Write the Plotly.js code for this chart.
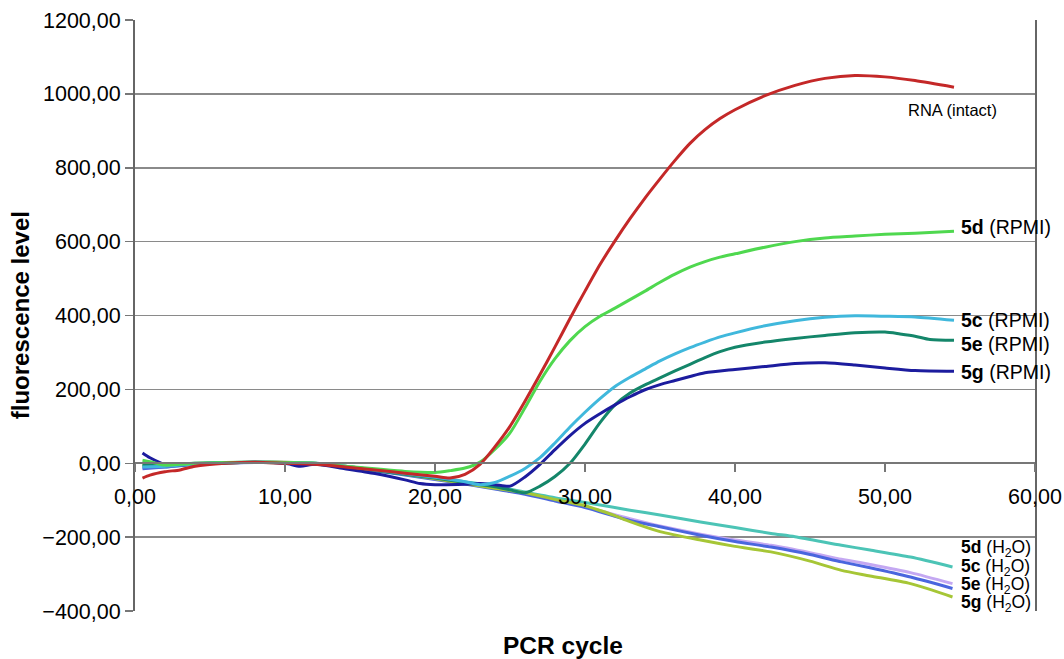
<!DOCTYPE html>
<html>
<head>
<meta charset="utf-8">
<script src="https://cdn.plot.ly/plotly-3.0.1.min.js"></script>
<style>html,body{margin:0;padding:0;background:#fff;}#chart{width:1064px;height:659px;}</style>
</head>
<body>
<div id="chart"></div>
<script>
// ---- data ----
const rnaX = [0.5,1,2,3,4,6,8,10,12,14,16,18,20,21,22,23,24,25,26,27,28,29,30,31,32,33,34,35,36,37,38,39,40,42,44,46,48,50,52,54.6];
const rnaY = [-40,-32,-23,-18,-8,0,3,0,-3,-10,-18,-27,-35,-40,-30,-3,45,100,168,240,315,392,466,538,602,662,718,770,820,866,903,933,957,995,1023,1042,1050,1046,1036,1018];

const d_rpmiX = [0.5,1,2,3,4,6,8,10,12,14,16,18,20,21,22,23,24,25,26,27,28,29,30,31,32,33,34,35,36,37,38,39,40,42,44,46,48,50,52,54.6];
const d_rpmiY = [8,4,-5,-3,0,2,3,2,0,-8,-15,-22,-25,-20,-13,3,38,82,150,222,283,332,370,398,420,443,466,490,512,531,546,558,567,585,600,610,615,620,623,628];

const c_rpmiX = [0.5,2,4,6,8,10,12,14,16,18,20,22,23,24,25,26,27,28,29,30,31,32,33,34,35,36,37,38,39,40,42,44,46,48,50,52,54.6];
const c_rpmiY = [-10,-8,-2,2,3,2,0,-8,-18,-28,-38,-50,-58,-52,-35,-14,15,55,98,138,175,208,233,255,277,296,313,328,342,353,372,386,395,399,398,396,387];

const e_rpmiX = [0.5,2,4,6,8,10,12,14,16,18,20,22,24,25,26,27,28,29,30,31,32,33,34,35,36,37,38,39,40,42,44,46,48,50,51,52,53,54.6];
const e_rpmiY = [-5,-5,0,2,3,1,-2,-10,-20,-30,-40,-52,-64,-72,-80,-62,-36,0,52,110,158,190,212,231,250,268,286,302,314,328,338,346,353,355,350,344,335,333];

const g_rpmiX = [0.5,1,2,3,4,6,8,10,11,12,14,16,18,19,20,22,23,24,25,26,27,28,29,30,31,32,33,34,35,36,37,38,40,42,44,46,48,50,52,54.6];
const g_rpmiY = [28,15,-3,-5,-2,1,3,0,-8,-3,-15,-28,-45,-55,-58,-57,-55,-58,-62,-37,-3,37,75,108,134,158,180,199,213,224,235,245,254,262,270,272,266,258,251,249];

const d_h2oX = [0.5,2,4,6,8,10,12,14,16,18,20,22,24,26,28.35,30,33,35,37.7,40,42.4,44,47.1,49,51.7,54.5];
const d_h2oY = [-8,-10,-3,1,3,2,0,-8,-18,-28,-38,-50,-62,-78,-96,-106,-127,-140,-159,-174,-190,-199,-222,-235,-254,-281];

const c_h2oX = [0.5,2,4,6,8,10,12,14,16,18,20,22,24,26,28,30,33,35,37.7,40,42.4,45,47.1,49,51.7,54.5];
const c_h2oY = [-12,-8,-2,2,3,3,0,-8,-18,-30,-42,-55,-68,-82,-100,-118,-150,-170,-192,-208,-222,-242,-260,-274,-296,-326];

const e_h2oX = [0.5,2,4,6,8,10,12,14,16,18,20,22,24,26,28,30,33,35,37.7,40,42.4,45,47.1,49,51.7,54.5];
const e_h2oY = [-15,-10,-3,1,2,2,-2,-10,-20,-32,-44,-56,-70,-84,-102,-120,-155,-172,-195,-212,-227,-247,-267,-283,-308,-339];

const g_h2oX = [0.5,2,4,6,8,10,12,14,16,18,20,22,24,26,28,30,31,32,33,35,37.7,40,42.4,45,47.1,49,51.7,54.5];
const g_h2oY = [-5,-6,-2,1,3,3,0,-8,-18,-30,-42,-55,-68,-80,-98,-115,-128,-142,-158,-185,-208,-225,-240,-265,-290,-305,-326,-362];

const xTicks = [0,10,20,30,40,50,60];
const yTicks = [-400,-200,0,200,400,600,800,1000,1200];

// ---- plot ----
function tr(x, y, color, name) {
  return {x: x, y: y, type: 'scatter', mode: 'lines', name: name,
          line: {color: color, width: 3, shape: 'spline', smoothing: 0.7},
          hoverinfo: 'x+y+name'};
}
const traces = [
  tr(d_h2oX, d_h2oY, '#4cc4b6', '5d (H2O)'),
  tr(c_h2oX, c_h2oY, '#c4a8f2', '5c (H2O)'),
  tr(e_h2oX, e_h2oY, '#4a66de', '5e (H2O)'),
  tr(g_h2oX, g_h2oY, '#a6c636', '5g (H2O)'),
  tr(e_rpmiX, e_rpmiY, '#14866a', '5e (RPMI)'),
  tr(g_rpmiX, g_rpmiY, '#1c1c9e', '5g (RPMI)'),
  tr(c_rpmiX, c_rpmiY, '#40b8dc', '5c (RPMI)'),
  tr(d_rpmiX, d_rpmiY, '#4fd84f', '5d (RPMI)'),
  tr(rnaX, rnaY, '#c42828', 'RNA (intact)')
];

const F = 'Liberation Sans, Arial, sans-serif';
function lab(text, y, size) {
  return {x: 54.9, y: y, xref: 'x', yref: 'y', text: text, showarrow: false,
          xanchor: 'left', yanchor: 'middle', font: {family: F, size: size, color: '#000'}};
}
const annotations = [
  {x: 54.5, y: 956, xref: 'x', yref: 'y', text: 'RNA (intact)', showarrow: false,
   xanchor: 'center', yanchor: 'middle', font: {family: F, size: 16.5, color: '#000'}},
  lab('<b>5d</b> (RPMI)', 639, 19.5),
  lab('<b>5c</b> (RPMI)', 387, 19.5),
  lab('<b>5e</b> (RPMI)', 322, 19.5),
  lab('<b>5g</b> (RPMI)', 246, 19.5),
  lab('<b>5d</b> (H<sub>2</sub>O)', -230, 17.5),
  lab('<b>5c</b> (H<sub>2</sub>O)', -281, 17.5),
  lab('<b>5e</b> (H<sub>2</sub>O)', -332, 17.5),
  lab('<b>5g</b> (H<sub>2</sub>O)', -381, 17.5),
  {x: -0.127, y: 0.5, xref: 'paper', yref: 'paper', text: '<b>fluorescence level</b>',
   textangle: -90, showarrow: false, xanchor: 'center', yanchor: 'middle',
   font: {family: F, size: 24, color: '#000'}},
  {x: 0.475, y: -0.059, xref: 'paper', yref: 'paper', text: '<b>PCR cycle</b>',
   showarrow: false, xanchor: 'center', yanchor: 'middle',
   font: {family: F, size: 24.5, color: '#000'}}
];

const layout = {
  width: 1064, height: 659,
  margin: {l: 135, r: 29, t: 20, b: 48, pad: 0},
  paper_bgcolor: '#fff', plot_bgcolor: '#fff',
  separators: ',.',
  showlegend: false,
  font: {family: F, size: 21, color: '#000'},
  xaxis: {
    range: [0, 60], tickvals: xTicks, tickformat: '.2f',
    anchor: 'free', position: 0.25,
    showgrid: false, zeroline: false,
    showline: true, linecolor: '#777', linewidth: 2,
    ticks: 'outside', ticklen: 8, tickcolor: '#777', tickwidth: 1.5,
    ticklabelstandoff: 6,
    tickfont: {family: F, size: 21.5, color: '#000'}
  },
  yaxis: {
    range: [-400, 1200], tickvals: yTicks, tickformat: '.2f',
    showgrid: true, gridcolor: '#8a8a8a', gridwidth: 1.5,
    zeroline: false,
    showline: true, mirror: true, linecolor: '#666', linewidth: 2,
    ticks: 'outside', ticklen: 8, tickcolor: '#777', tickwidth: 1.5,
    tickfont: {family: F, size: 21.5, color: '#000'}
  },
  annotations: annotations
};

Plotly.newPlot('chart', traces, layout, {displayModeBar: false, staticPlot: true});
</script>
</body>
</html>
